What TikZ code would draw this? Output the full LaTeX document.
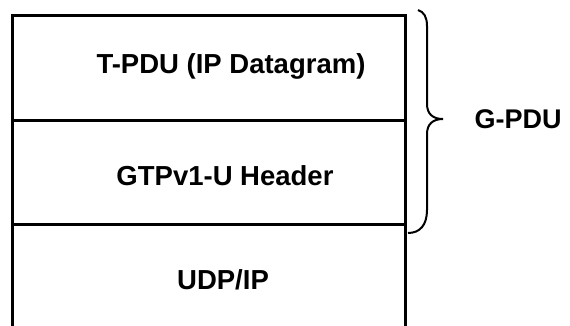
\documentclass[tikz,border=0pt]{standalone}
\usepackage{fontspec}
\setmainfont{Liberation Sans}
\begin{document}
\begin{tikzpicture}[x=1pt,y=-1pt,
  lbl/.style={font=\bfseries\fontsize{27.5}{30}\selectfont, inner sep=0pt, anchor=base},
  layer/.style={line width=3pt},
  bracestyle/.style={line width=2pt}]
\useasboundingbox (0,0) rectangle (570,325);
\draw[layer] (12.5,326) -- (12.5,15.5) -- (405,15.5) -- (405,326);
\draw[layer] (12.5,120) -- (405,120);
\draw[layer] (12.5,224) -- (405,224);
\node[lbl] (tpdu) at (231,73) {T-PDU (IP Datagram)};
\node[lbl] (gtp) at (225,185) {GTPv1-U Header};
\node[lbl] (udp) at (223,289) {UDP/IP};
\node[lbl, font=\bfseries\fontsize{27}{30}\selectfont] (gpdu) at (518,128.5) {G-PDU};
\draw[bracestyle] (418,10) .. controls (424,12) and (427,17) .. (427,26) -- (427,104)
  .. controls (427,114) and (433,119) .. (443,119)
  .. controls (433,119) and (427,124) .. (427,134) -- (427,210)
  .. controls (427,225) and (420,233) .. (408,233);
\end{tikzpicture}
\end{document}
